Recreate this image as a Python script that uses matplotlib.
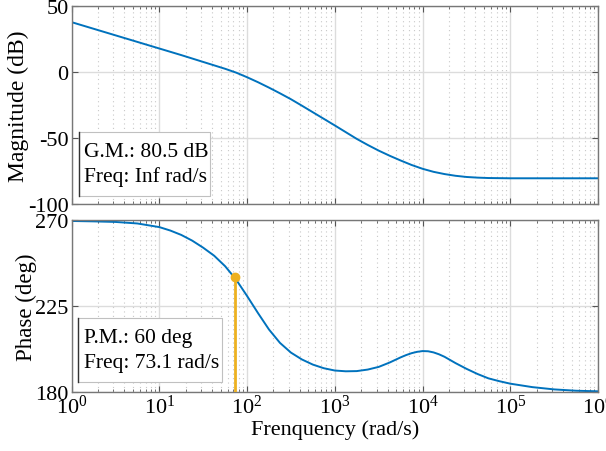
import numpy as np
import matplotlib
matplotlib.use('Agg')
import matplotlib.pyplot as plt
from matplotlib.lines import Line2D

plt.rcParams['font.family'] = ['Liberation Serif', 'DejaVu Serif']
plt.rcParams['mathtext.fontset'] = 'stix'
plt.rcParams['axes.unicode_minus'] = False
plt.rcParams['font.size'] = 15

# DATA (log10 of frequency, values)
mag_logw = [0, 0.25, 0.5, 0.75, 1.0, 1.25, 1.5, 1.625, 1.75, 1.875, 2.0, 2.125,
            2.25, 2.375, 2.5, 2.625, 2.75, 2.875, 3.0, 3.125, 3.25, 3.375, 3.5,
            3.625, 3.75, 3.875, 4.0, 4.125, 4.25, 4.375, 4.5, 4.625, 4.75, 5.0,
            5.5, 6.0]
mag_db = [38.0, 33.0, 28.0, 23.0, 18.0, 13.0, 7.8, 5.2, 2.6, -0.3, -3.8, -7.6,
          -11.7, -16.0, -20.5, -25.4, -30.4, -35.4, -40.4, -45.5, -50.6, -55.2,
          -59.5, -63.4, -67.0, -70.4, -73.3, -75.6, -77.3, -78.6, -79.5, -80.0,
          -80.3, -80.5, -80.5, -80.5]

ph_logw = [0, 0.25, 0.5, 0.75, 1.0, 1.125, 1.25, 1.375, 1.5, 1.625, 1.75, 1.875,
           2.0, 2.125, 2.25, 2.375, 2.5, 2.625, 2.75, 2.875, 3.0, 3.125, 3.25,
           3.375, 3.5, 3.625, 3.75, 3.8125, 3.875, 3.9375, 4.0, 4.0625, 4.125,
           4.1875, 4.25, 4.375, 4.5, 4.625, 4.75, 4.875, 5.0, 5.25, 5.5, 5.75, 6.0]
ph_deg = [269.5, 269.3, 269.0, 268.2, 266.3, 264.5, 262.2, 259.2, 255.5, 251.3,
          245.8, 238.8, 230.2, 221.2, 212.6, 205.6, 200.5, 196.9, 194.2, 192.3,
          191.1, 190.7, 190.8, 191.6, 193.0, 195.3, 198.0, 199.2, 200.2, 200.9,
          201.3, 201.2, 200.6, 199.6, 198.3, 195.0, 192.0, 189.3, 187.0, 185.5,
          184.2, 182.4, 181.2, 180.5, 180.2]

pm_freq = 73.1
pm_phase = 240
gm_text = 'G.M.: 80.5 dB\nFreq: Inf rad/s'
pm_text = 'P.M.: 60 deg\nFreq: 73.1 rad/s'

blue = '#0072BD'
gold = '#EDB120'

fig = plt.figure(figsize=(6.06, 4.52), dpi=100)
ax1 = fig.add_axes([0.118, 0.5465, 0.869, 0.4373])
ax2 = fig.add_axes([0.118, 0.1312, 0.869, 0.3798])

ax1.semilogx(10 ** np.array(mag_logw), mag_db, color=blue, lw=1.4)
ax2.semilogx(10 ** np.array(ph_logw), ph_deg, color=blue, lw=1.4)

# phase margin marker
ax2.plot([pm_freq, pm_freq], [180, pm_phase], color=gold, lw=2, zorder=4)
ax2.plot(pm_freq, pm_phase, 'o', color=gold, ms=6, zorder=5)

for ax in (ax1, ax2):
    ax.set_xlim(1, 1e6)
    ax.grid(True, which='major', color='#dcdcdc', lw=1, ls='-')
    ax.grid(True, which='minor', axis='x', color='#c8c8c8', lw=0.8, ls=(0, (1, 3)))
    ax.set_axisbelow(True)
    ax.tick_params(which='both', direction='in', top=True, right=True,
                   color='#555555', labelsize=16, pad=2)
    ax.tick_params(which='major', length=4)
    ax.tick_params(which='minor', length=2.5)
    for s in ax.spines.values():
        s.set_color('#777777')
        s.set_linewidth(1)
    ax.set_xticks([10.0 ** k for k in range(7)])

ax1.set_ylim(-100, 50)
ax1.set_yticks([-100, -50, 0, 50])
ax1.tick_params(axis='x', labelbottom=False)
ax1.set_ylabel('Magnitude (dB)', fontsize=17, labelpad=-1)

ax2.set_ylim(180, 270)
ax2.set_yticks([180, 225, 270])
ax2.set_ylabel('Phase (deg)', fontsize=16.5, labelpad=-1)
ax2.set_xlabel('Frenquency (rad/s)', fontsize=16, labelpad=1)


def tip_box(ax, x0, y0, x1, y1, txt):
    ax.fill_between([x0, x1], [y0, y0], [y1, y1], transform=ax.transAxes,
                    color='white', ec='#c0c0c0', lw=0.8, zorder=6)
    ax.add_line(Line2D([x0, x0], [y0, y1], transform=ax.transAxes,
                       color='#333333', lw=1, zorder=7))
    ax.text(x0 + 0.01, (y0 + y1) / 2, txt, transform=ax.transAxes,
            ha='left', va='center', fontsize=15.5, linespacing=1.4, zorder=8)


tip_box(ax1, 0.014, 0.04, 0.263, 0.364, gm_text)
tip_box(ax2, 0.013, 0.058, 0.286, 0.427, pm_text)

fig.savefig('out.png', dpi=100)
